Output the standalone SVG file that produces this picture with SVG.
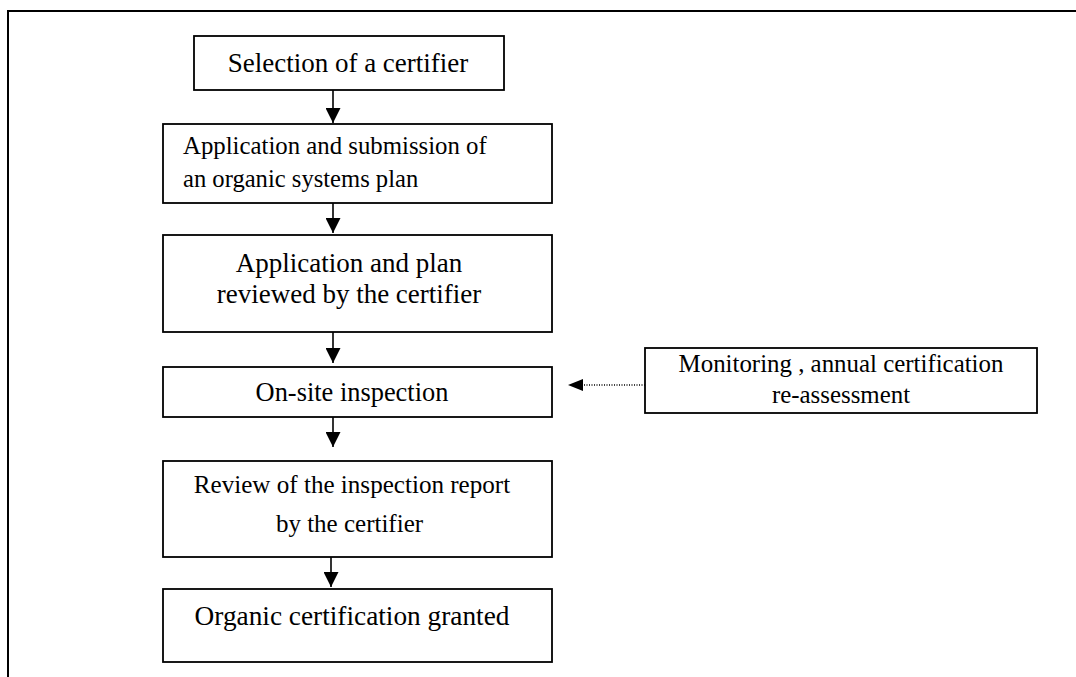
<svg xmlns="http://www.w3.org/2000/svg" width="1076" height="677" viewBox="0 0 1076 677">
  <style>
    .frame { fill: none; stroke: #000; stroke-width: 2; }
    .box { fill: #fff; stroke: #000; stroke-width: 1.8; }
    .lbl { font-family: "Liberation Serif", "Times New Roman", serif; fill: #000; }
    .c { text-anchor: middle; }
    .flow { stroke: #000; stroke-width: 1.6; fill: none; }
    .dotted { stroke: #000; stroke-width: 1.4; stroke-dasharray: 1 1.5; fill: none; }
  </style>
  <defs>
    <marker id="head" viewBox="0 0 10 10" refX="10" refY="5" markerUnits="userSpaceOnUse" markerWidth="15" markerHeight="15" orient="auto">
      <path d="M0,0 L10,5 L0,10 Z" fill="#000"/>
    </marker>
  </defs>

  <rect width="1076" height="677" fill="#fff"/>
  <!-- outer frame, running past the right and bottom edges -->
  <rect class="frame" x="8" y="11" width="1100" height="700"/>

  <g id="connectors">
    <line class="flow" x1="333" y1="90" x2="333" y2="123" marker-end="url(#head)"/>
    <line class="flow" x1="333" y1="203" x2="333" y2="233" marker-end="url(#head)"/>
    <line class="flow" x1="333" y1="332" x2="333" y2="363" marker-end="url(#head)"/>
    <line class="flow" x1="333" y1="417" x2="333" y2="447" marker-end="url(#head)"/>
    <line class="flow" x1="331" y1="556" x2="331" y2="587" marker-end="url(#head)"/>
    <line class="dotted" x1="645" y1="385" x2="583" y2="385"/>
    <path d="M583,379 L568,385 L583,391 Z" fill="#000"/>
  </g>

  <g id="selection">
    <rect class="box" x="194" y="36" width="310" height="54"/>
    <text class="lbl c" x="348" y="72" font-size="27">Selection of a certifier</text>
  </g>

  <g id="application">
    <rect class="box" x="163" y="124" width="389" height="79"/>
    <text class="lbl" x="183" y="154" font-size="24.8">Application and submission of</text>
    <text class="lbl" x="183" y="187" font-size="24.6">an organic systems plan</text>
  </g>

  <g id="review-plan">
    <rect class="box" x="163" y="235" width="389" height="97"/>
    <text class="lbl c" x="349" y="272" font-size="27">Application and plan</text>
    <text class="lbl c" x="349" y="303" font-size="27">reviewed by the certifier</text>
  </g>

  <g id="inspection">
    <rect class="box" x="163" y="367" width="389" height="50"/>
    <text class="lbl c" x="352" y="401" font-size="26.4">On-site inspection</text>
  </g>

  <g id="monitoring">
    <rect class="box" x="645" y="348" width="392" height="65"/>
    <text class="lbl c" x="841" y="372" font-size="24.9">Monitoring , annual certification</text>
    <text class="lbl c" x="841" y="403" font-size="24.9">re-assessment</text>
  </g>

  <g id="review-report">
    <rect class="box" x="163" y="461" width="389" height="96"/>
    <text class="lbl c" x="352" y="493" font-size="25.1">Review of the inspection report</text>
    <text class="lbl c" x="349.5" y="532" font-size="25">by the certifier</text>
  </g>

  <g id="granted">
    <rect class="box" x="163" y="589" width="389" height="73"/>
    <text class="lbl c" x="352" y="625" font-size="27.3">Organic certification granted</text>
  </g>
</svg>
